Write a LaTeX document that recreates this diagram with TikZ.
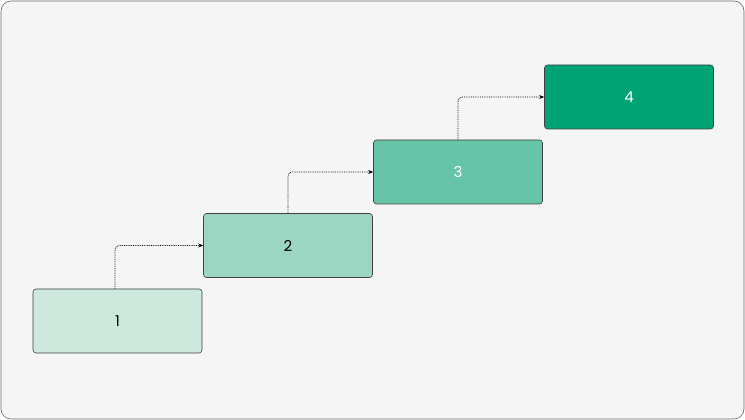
\documentclass[tikz,border=0pt]{standalone}
\usepackage{fontspec}
\setmainfont{Poppins}
\usetikzlibrary{arrows.meta}
\definecolor{bgc}{HTML}{F5F5F5}
\definecolor{c1}{HTML}{CDE8DD}
\definecolor{c2}{HTML}{9AD6C1}
\definecolor{c3}{HTML}{66C5A8}
\definecolor{c4}{HTML}{00A373}
\tikzset{
 stepbox/.style={draw=black!75, line width=0.6pt, rounded corners=3pt, minimum width=169pt, minimum height=64pt, inner sep=0pt, font=\fontsize{15}{18}\selectfont},
 conn/.style={densely dotted, line width=0.8pt, rounded corners=4pt, -{Stealth[length=5pt,width=4pt]}}
}
\begin{document}
\begin{tikzpicture}[x=1pt,y=1pt]
\useasboundingbox (0,0) rectangle (745,420);
\draw[fill=bgc, draw=black!60, line width=0.6pt, rounded corners=10pt] (1,1) rectangle (744,419);
\node[stepbox, fill=c1, text=black] (b1) at (117.5,99) {1};
\node[stepbox, fill=c2, text=black] (b2) at (288,174.5) {2};
\node[stepbox, fill=c3, text=white] (b3) at (458,248) {3};
\node[stepbox, fill=c4, text=white] (b4) at (629,323) {4};
\draw[conn] ([xshift=-2.5pt]b1.north) |- (b2.west);
\draw[conn] (b2.north) |- (b3.west);
\draw[conn] (b3.north) |- (b4.west);
\end{tikzpicture}
\end{document}
